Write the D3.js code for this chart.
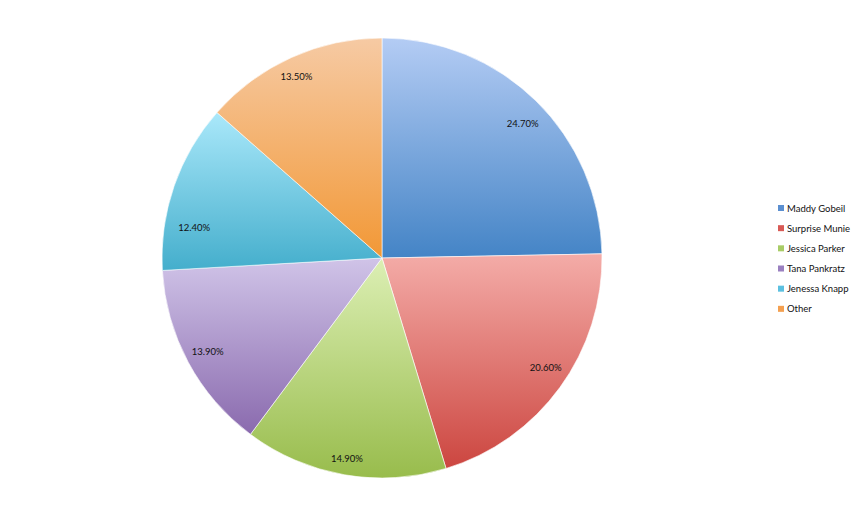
<!DOCTYPE html>
<html><head><meta charset="utf-8">
<script src="https://cdn.jsdelivr.net/npm/d3@7"></script>
<style>body{margin:0;background:#fff;}svg{display:block;}</style>
</head><body>
<script>
const names = ["Maddy Gobeil","Surprise Munie","Jessica Parker","Tana Pankratz","Jenessa Knapp","Other"];
const values = [24.7, 20.6, 14.9, 13.9, 12.4, 13.5];
const labels = ["24.70%","20.60%","14.90%","13.90%","12.40%","13.50%"];
const topColors = ["#b4ccf4","#f4aca8","#dcefb4","#d0c4e8","#aae8fa","#f6caa4"];
const bottomColors = ["#4484c6","#cc4640","#98bc4c","#8a6aae","#44aecc","#f29836"];
const legendColors = ["#5b8fd0","#d85a55","#a8cc66","#9a80c0","#5cc0e0","#f4a050"];
// label placement within each slice: fraction of slice angle, fraction of radius
const labelAngleFrac = [0.52, 0.47, 0.5, 0.5, 0.28, 0.48];
const labelRadiusFrac = [0.885, 0.895, 0.925, 0.9, 0.865, 0.91];

const W = 858, H = 514, cx = 382, cy = 258, R = 220;
const svg = d3.select("body").append("svg").attr("width", W).attr("height", H);
const defs = svg.append("defs");
names.forEach((n, i) => {
  const g = defs.append("linearGradient").attr("id", "g" + i)
    .attr("x1", 0).attr("y1", 0).attr("x2", 0).attr("y2", 1);
  g.append("stop").attr("offset", "0%").attr("stop-color", topColors[i]);
  g.append("stop").attr("offset", "100%").attr("stop-color", bottomColors[i]);
});

const pie = d3.pie().sort(null).value(d => d);
const arcs = pie(values);
const arc = d3.arc().innerRadius(0).outerRadius(R);

const g = svg.append("g").attr("transform", `translate(${cx},${cy})`);
g.selectAll("path").data(arcs).join("path")
  .attr("d", arc)
  .attr("fill", (d, i) => `url(#g${i})`)
  .attr("stroke", "#ffffff").attr("stroke-width", 0.6);

g.selectAll("text").data(arcs).join("text")
  .attr("transform", (d, i) => {
    const a = d.startAngle + (d.endAngle - d.startAngle) * labelAngleFrac[i];
    const r = R * labelRadiusFrac[i];
    return `translate(${Math.sin(a) * r},${-Math.cos(a) * r})`;
  })
  .attr("text-anchor", "middle").attr("dominant-baseline", "central")
  .attr("font-family", "Lato, 'Open Sans', sans-serif").attr("font-size", 9.5)
  .attr("fill", "#111")
  .text((d, i) => labels[i]);

const leg = svg.append("g").attr("transform", "translate(778,208)");
const y = d3.scaleBand().domain(names).range([0, 121]).paddingInner(0);
names.forEach((n, i) => {
  const yy = y(n);
  leg.append("rect").attr("x", 0).attr("y", yy - 3).attr("width", 6).attr("height", 6)
    .attr("fill", legendColors[i]);
  leg.append("text").attr("x", 9).attr("y", yy).attr("dominant-baseline", "central")
    .attr("font-family", "Lato, 'Open Sans', sans-serif").attr("font-size", 9.5)
    .attr("fill", "#111").text(n);
});
</script>
</body></html>
